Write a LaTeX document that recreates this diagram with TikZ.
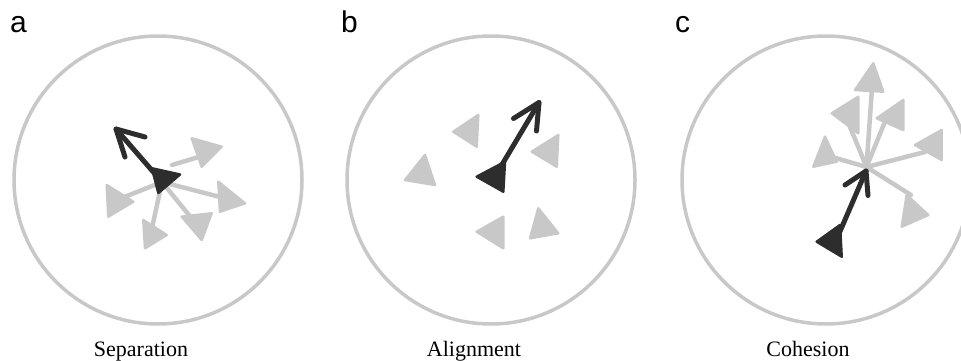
\documentclass[tikz,border=0pt]{standalone}
\usepackage{fontspec}
\setmainfont{Liberation Serif}
\newfontfamily\lblfont{Liberation Sans}
\definecolor{lg}{RGB}{200,200,200}
\definecolor{dk}{RGB}{45,45,45}
\begin{document}
\begin{tikzpicture}[x=1pt,y=-1pt,
  ring/.style={draw=lg,line width=3.5pt},
  gline/.style={draw=lg,line width=4.5pt,line cap=round},
  bline/.style={draw=dk,line width=5pt,line cap=round,line join=round},
  gboid/.style={fill=lg,draw=lg,line width=2.5pt,line join=round},
  bboid/.style={fill=dk,draw=dk,line width=2.5pt,line join=round},
  panel/.style={font=\lblfont\fontsize{30}{30}\selectfont,anchor=base west,inner sep=0pt},
  caption/.style={font=\fontsize{22}{22}\selectfont,anchor=base,inner sep=0pt}]
\useasboundingbox (0,0) rectangle (961,361);
\clip (0,0) rectangle (961,361);
% labels
\node[panel] (la) at (10,33) {a};
\node[panel] (lb) at (341,33) {b};
\node[panel] (lc) at (675,33) {c};
\node[caption] (ca) at (141,356) {Separation};
\node[caption] (cb) at (474,356) {Alignment};
\node[caption] (cc) at (808,356) {Cohesion};
% circles
\draw[ring] (158,180) circle (144);
\draw[ring] (491,180) circle (144);
\draw[ring] (826,180) circle (144);
% ---- panel a: separation
\coordinate (ah) at (162,182);
\draw[gline] (172,165) -- (202,156);
\draw[gboid] (191.7,138.3) -- (221.7,146.7) -- (201.7,166.7) -- cycle;
\draw[gline] (ah) -- (224,198);
\draw[gboid] (218.3,181.7) -- (245,203.3) -- (220,211.7) -- cycle;
\draw[gline] (ah) -- (193,220);
\draw[gboid] (181.7,216.7) -- (211.7,213.3) -- (201.7,240) -- cycle;
\draw[gline] (ah) -- (152,228);
\draw[gboid] (143.3,220) -- (166.7,235) -- (145,248.3) -- cycle;
\draw[gline] (ah) -- (122,198);
\draw[gboid] (106.7,185) -- (133.3,201.7) -- (108.3,216.7) -- cycle;
\coordinate (at) at (116,129);
\draw[bline] (ah) -- (at);
\draw[bline] (145,137) -- (at) -- (125,157);
\draw[bboid] (152,168.3) -- (180,174.5) -- (158.3,193) -- cycle;
% ---- panel b: alignment
\draw[gboid] (453.3,131.7) -- (478.3,115) -- (476.7,146.7) -- cycle;
\draw[gboid] (405,180) -- (425,155) -- (435,185) -- cycle;
\draw[gboid] (531.7,151.7) -- (558.3,135) -- (556.7,166.7) -- cycle;
\draw[gboid] (476.7,231.7) -- (503.3,216.7) -- (503.3,248.3) -- cycle;
\draw[gboid] (530,238.3) -- (538.3,208.3) -- (558.3,233.3) -- cycle;
\coordinate (bt) at (539,102.5);
\draw[bline] (500,168) -- (bt);
\draw[bline] (513.5,118.5) -- (bt) -- (536.5,131);
\draw[bboid] (476.7,176.7) -- (505,161.7) -- (503.3,191.7) -- cycle;
% ---- panel c: cohesion
\coordinate (ch) at (866.5,167);
\draw[gline] (ch) -- (872,88);
\draw[gboid] (855,90) -- (873.3,63.3) -- (883.3,91.7) -- cycle;
\draw[gline] (ch) -- (848,122);
\draw[gboid] (831.7,113.3) -- (858.3,96.7) -- (858.3,133.3) -- cycle;
\draw[gline] (ch) -- (884,124);
\draw[gboid] (876.7,118.3) -- (903.3,100) -- (903.3,130) -- cycle;
\draw[gline] (ch) -- (832,157);
\draw[gboid] (813.3,166.7) -- (825,136.7) -- (836.7,161.7) -- cycle;
\draw[gline] (ch) -- (925,152);
\draw[gboid] (915,145) -- (941.7,130) -- (941.7,160) -- cycle;
\draw[gline] (ch) -- (911,195);
\draw[gboid] (901.7,226.7) -- (906.7,195) -- (928.3,215) -- cycle;
\coordinate (ct) at (866,171);
\draw[bline] (838,236) -- (ct);
\draw[bline] (845,185) -- (ct) -- (868,195.5);
\draw[bboid] (816.7,241.7) -- (840,225) -- (841.7,256.7) -- cycle;
\end{tikzpicture}
\end{document}
